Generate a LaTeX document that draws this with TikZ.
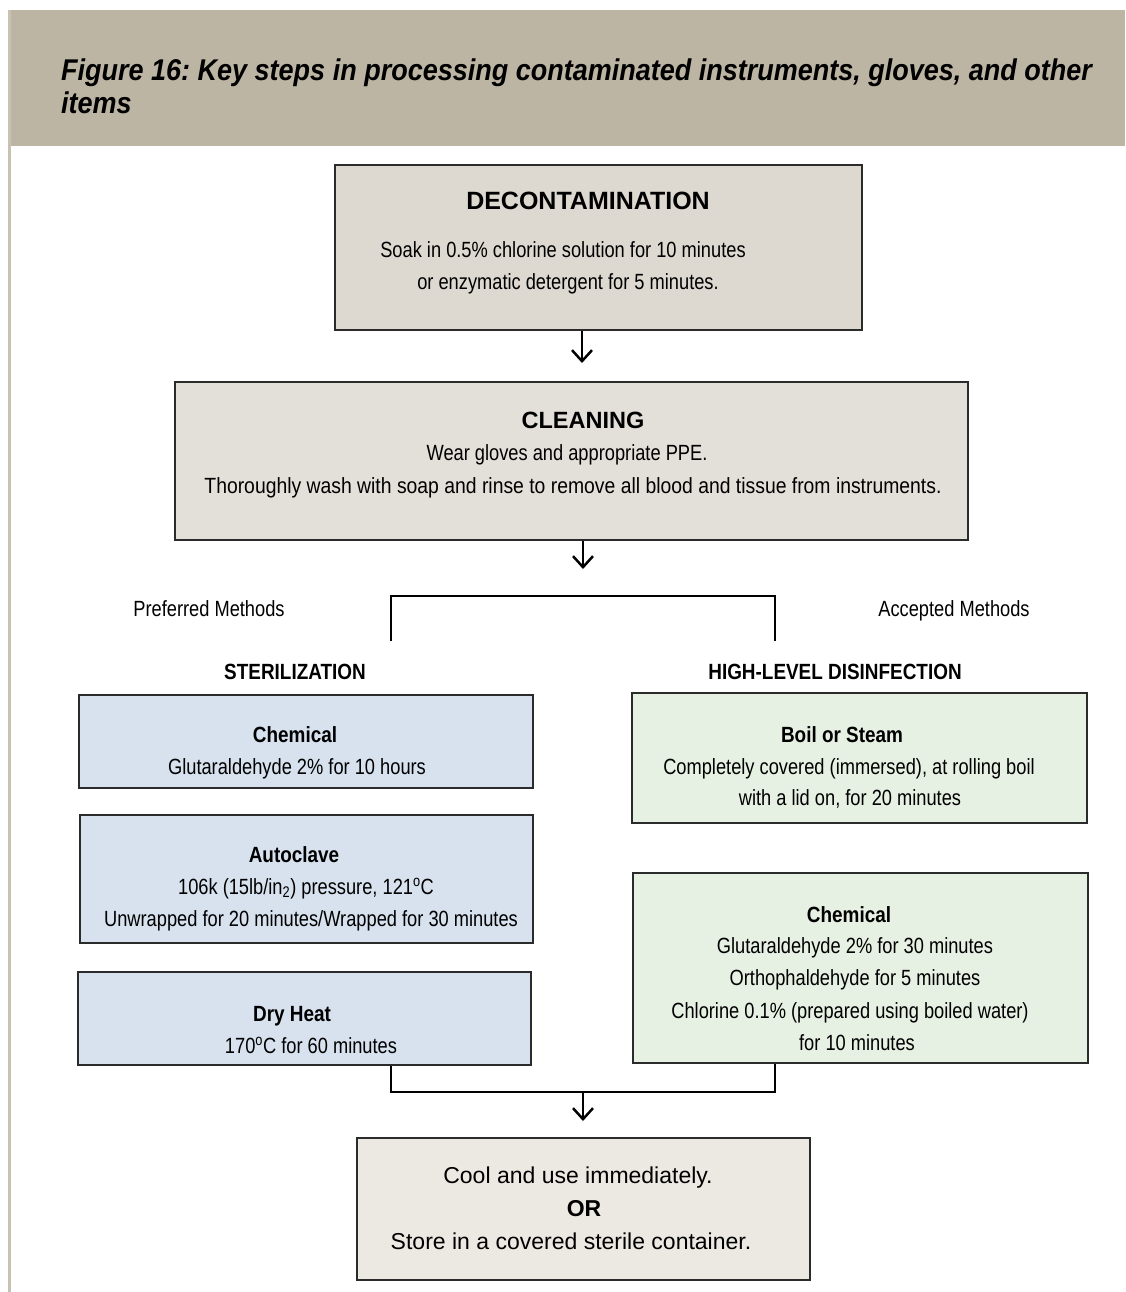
\documentclass[tikz,border=0pt]{standalone}
\usepackage{fontspec}
\setmainfont{Liberation Sans}
\newfontfamily\nar[FakeStretch=0.83]{Liberation Sans}
\newfontfamily\narw[FakeStretch=0.88]{Liberation Sans}
\newfontfamily\narb[FakeStretch=0.86]{Liberation Sans}
\newfontfamily\narti[FakeStretch=0.9]{Liberation Sans}
\usetikzlibrary{arrows.meta}
\definecolor{band}{HTML}{BDB5A4}
\definecolor{bandline}{HTML}{C9C1B1}
\definecolor{decfill}{HTML}{DDD9D1}
\definecolor{clnfill}{HTML}{E3E0D9}
\definecolor{blufill}{HTML}{D7E2EE}
\definecolor{grnfill}{HTML}{E7F1E3}
\definecolor{endfill}{HTML}{ECE9E3}
\definecolor{edge}{HTML}{2B2B2B}
\begin{document}
\frenchspacing
\begin{tikzpicture}[x=1pt,y=-1pt,
  box/.style={draw=edge, line width=2pt, inner sep=0pt},
  tx/.style={anchor=base, inner sep=0pt, font=\nar\fontsize{22pt}{26pt}\selectfont},
  tb/.style={anchor=base, inner sep=0pt, font=\narb\bfseries\fontsize{22pt}{26pt}\selectfont},
  tbig/.style={anchor=base, inner sep=0pt, font=\bfseries\fontsize{25pt}{30pt}\selectfont},
  tfin/.style={anchor=base, inner sep=0pt, font=\fontsize{23pt}{28pt}\selectfont},
  tfinb/.style={anchor=base, inner sep=0pt, font=\bfseries\fontsize{23pt}{28pt}\selectfont},
  ttl/.style={anchor=base west, inner sep=0pt, font=\narti\bfseries\itshape\fontsize{30pt}{34pt}\selectfont},
  conn/.style={line width=2.5pt, black},
  arr/.style={conn, -{Straight Barb[length=11pt,width=20pt,line width=2.5pt]}}
]
\useasboundingbox (0,0) rectangle (1125,1292);
% header band
\node[fill=band, inner sep=0pt, minimum width=1116pt, minimum height=136pt, anchor=north west] (hdr) at (9,10) {};
\draw[bandline, line width=3pt] (9.5,10) -- (9.5,1292);
\node[ttl] (ttl1) at (61,81) {Figure 16: Key steps in processing contaminated instruments, gloves, and other};
\node[ttl] (ttl2) at (61,114) {items};

% boxes
\node[box, fill=decfill, minimum width=527pt, minimum height=165pt] (decon) at (598.5,247.5) {};
\node[box, fill=clnfill, minimum width=793pt, minimum height=158pt] (clean) at (571.5,461) {};
\node[box, fill=blufill, minimum width=454pt, minimum height=93pt] (chemL) at (306,741.5) {};
\node[box, fill=blufill, minimum width=453pt, minimum height=128pt] (auto) at (306.5,879) {};
\node[box, fill=blufill, minimum width=453pt, minimum height=93pt] (dry) at (304.5,1018.5) {};
\node[box, fill=grnfill, minimum width=455pt, minimum height=130pt] (boil) at (859.5,758) {};
\node[box, fill=grnfill, minimum width=455pt, minimum height=190pt] (chemR) at (860.5,968) {};
\node[box, fill=endfill, minimum width=453pt, minimum height=142pt] (final) at (583.5,1209) {};

% texts
\node[tbig] (decT) at (588,209) {DECONTAMINATION};
\node[tx] (decL1) at (563,257) {Soak in 0.5\% chlorine solution for 10 minutes};
\node[tx] (decL2) at (568,289) {or enzymatic detergent for 5 minutes.};

\node[tbig, font=\bfseries\fontsize{23.5pt}{28pt}\selectfont] (clnT) at (583,428) {CLEANING};
\node[tx] (clnL1) at (567,460) {Wear gloves and appropriate PPE.};
\node[tx, font=\narw\fontsize{22pt}{26pt}\selectfont] (clnL2) at (573,493) {Thoroughly wash with soap and rinse to remove all blood and tissue from instruments.};

\node[tx] (pref) at (209,616) {Preferred Methods};
\node[tx] (acc) at (954,616) {Accepted Methods};
\node[tb] (ster) at (295,679) {STERILIZATION};
\node[tb] (hld) at (835,679) {HIGH-LEVEL DISINFECTION};

\node[tb] (chemLT) at (295,742) {Chemical};
\node[tx] (chemLL) at (297,774) {Glutaraldehyde 2\% for 10 hours};

\node[tb] (autoT) at (294,862) {Autoclave};
\node[tx] (autoL1) at (306,894) {106k (15lb/in\textsubscript{2}) pressure, 121\textsuperscript{o}C};
\node[tx] (autoL2) at (311,926) {Unwrapped for 20 minutes/Wrapped for 30 minutes};

\node[tb] (dryT) at (292,1021) {Dry Heat};
\node[tx] (dryL) at (311,1053) {170\textsuperscript{o}C for 60 minutes};

\node[tb] (boilT) at (842,742) {Boil or Steam};
\node[tx] (boilL1) at (849,774) {Completely covered (immersed), at rolling boil};
\node[tx] (boilL2) at (850,805) {with a lid on, for 20 minutes};

\node[tb] (chemRT) at (849,922) {Chemical};
\node[tx] (chemRL1) at (855,953) {Glutaraldehyde 2\% for 30 minutes};
\node[tx] (chemRL2) at (855,985) {Orthophaldehyde for 5 minutes};
\node[tx] (chemRL3) at (850,1018) {Chlorine 0.1\% (prepared using boiled water)};
\node[tx] (chemRL4) at (857,1050) {for 10 minutes};

\node[tfin] (finL1) at (578,1183) {Cool and use immediately.};
\node[tfinb] (finOR) at (584,1216) {OR};
\node[tfin] (finL2) at (571,1249) {Store in a covered sterile container.};

% connectors
\coordinate (a1end) at (582,363);
\coordinate (a2end) at (583,569);
\coordinate (brL) at (391,641);
\coordinate (brR) at (775,641);
\coordinate (brTop) at (583,596);
\coordinate (xL) at (391,0);
\coordinate (xR) at (775,0);
\coordinate (jn) at (583,1092);
\coordinate (a3end) at (583,1121);

\draw[arr] (decon.south -| a1end) -- (a1end);
\draw[arr] (clean.south -| a2end) -- (a2end);
\draw[conn] (brL) |- (brTop) -| (brR);
\draw[conn] (dry.south -| xL) |- (jn) -| (chemR.south -| xR);
\draw[arr] (jn) -- (a3end);
\end{tikzpicture}
\end{document}
